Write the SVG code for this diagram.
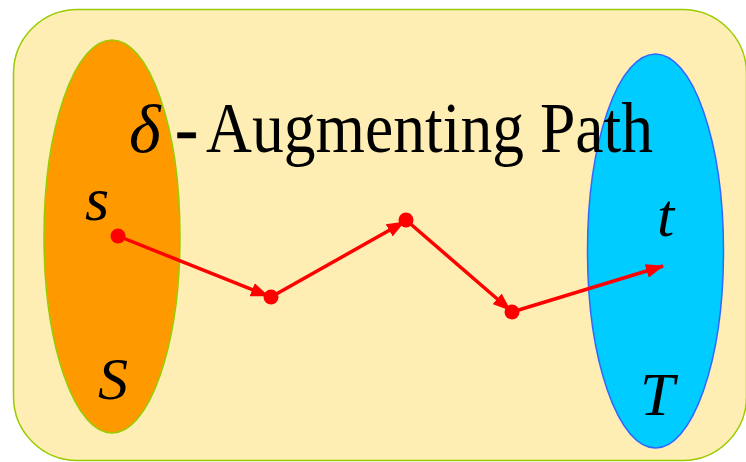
<svg xmlns="http://www.w3.org/2000/svg" width="746" height="462" viewBox="0 0 746 462">
<style>
.lbl{font-family:"Liberation Serif","Times New Roman",serif;font-style:italic;fill:#000;}
.ttl{font-family:"Liberation Serif","Times New Roman",serif;fill:#000;}
.edge{stroke:#ff0000;stroke-width:3.5;fill:none;marker-end:url(#ah);}
.dot{fill:#ff0000;}
</style>
<defs>
<marker id="ah" markerWidth="18" markerHeight="14" refX="17" refY="7" orient="auto" markerUnits="userSpaceOnUse">
<path d="M0,0 L18,7 L0,14 Z" fill="#ff0000"/>
</marker>
</defs>
<g id="background">
<rect x="13.5" y="9.5" width="733" height="451" rx="64" ry="64" fill="#ffeeb4" stroke="#99cc00" stroke-width="1.5"/>
</g>
<g id="setS">
<ellipse cx="112" cy="236.5" rx="68" ry="196.5" fill="#ff9900" stroke="#99cc00" stroke-width="1.5"/>
<text class="lbl" x="98" y="399" font-size="60">S</text>
<text class="lbl" x="85" y="220" font-size="62">s</text>
</g>
<g id="setT">
<ellipse cx="655.5" cy="251" rx="68" ry="197" fill="#00ccff" stroke="#3366ff" stroke-width="1.5"/>
<text class="lbl" x="640" y="415" font-size="62">T</text>
<text class="lbl" x="657" y="236" font-size="62">t</text>
</g>
<g id="title">
<text class="ttl" x="129" y="152" font-size="68" font-style="italic">δ</text>
<text class="ttl" x="175" y="152" font-size="70" stroke="#000" stroke-width="0.6">-</text>
<text class="ttl" x="206" y="152" font-size="71" textLength="447" lengthAdjust="spacingAndGlyphs">Augmenting Path</text>
</g>
<g id="connectors">
<line class="edge" x1="118" y1="236" x2="268" y2="296"/>
<line class="edge" x1="271" y1="297" x2="404" y2="222"/>
<line class="edge" x1="406" y1="220" x2="510" y2="310"/>
<line class="edge" x1="512" y1="312" x2="663" y2="266"/>
</g>
<g id="nodes">
<circle id="n1" class="dot" cx="118" cy="236" r="7.5"/>
<circle id="n2" class="dot" cx="271" cy="297" r="7.5"/>
<circle id="n3" class="dot" cx="406" cy="220" r="7.5"/>
<circle id="n4" class="dot" cx="512" cy="312" r="7.5"/>
</g>
</svg>
